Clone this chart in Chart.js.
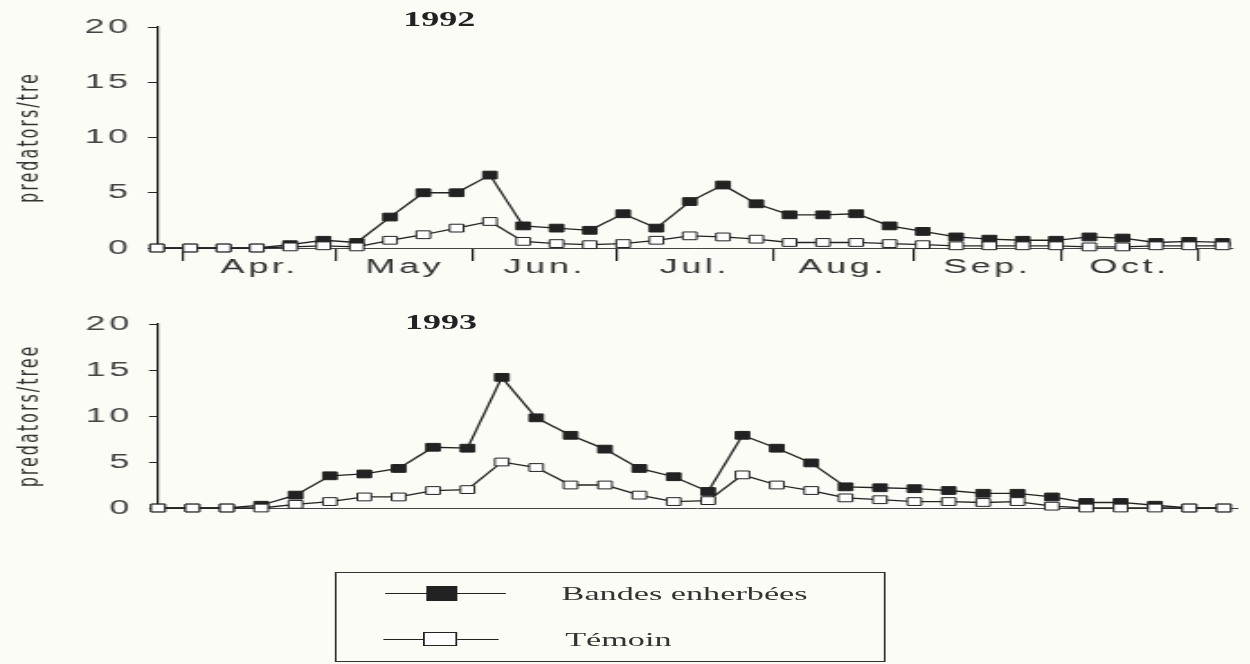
<!DOCTYPE html>
<html>
<head>
<meta charset="utf-8">
<script src="https://cdn.jsdelivr.net/npm/chart.js@4"></script>
<style>
  html, body { margin: 0; padding: 0; background: #fcfcf7; }
  body { width: 1250px; height: 664px; overflow: hidden; position: relative; }
  /* the scanned figure is stretched sideways, so everything is laid out narrow and widened */
  #stretch { position: absolute; left: 0; top: 0; width: 694.44px; height: 664px;
             transform: scaleX(1.8); transform-origin: 0 0; }
  .box { position: absolute; }
  .year { position: absolute; width: 100px; text-align: center; font: bold 20px "Liberation Serif", "Times New Roman", serif;
          line-height: 20px; color: #222; }
  #legend { position: absolute; left: 186px; top: 572px; width: 304px; height: 88px; border: 1.2px solid #333; }
  .row { position: absolute; left: 0; width: 100%; height: 20px; }
  .seg { position: absolute; height: 0; border-top: 1.2px solid #222; top: 9px; }
  .mark { position: absolute; border: 1px solid #222; }
  .lab { position: absolute; font: 19px "Liberation Serif", "Times New Roman", serif; color: #333; line-height: 20px; top: 0; white-space: nowrap; }
</style>
</head>
<body>
<div id="stretch">
  <div class="year" style="left:194px; top:9px">1992</div>
  <div class="box" style="left:0; top:0; width:694px; height:290px"><canvas id="c1992" width="694" height="290"></canvas></div>
  <div class="year" style="left:195px; top:312px">1993</div>
  <div class="box" style="left:0; top:300px; width:694px; height:230px"><canvas id="c1993" width="694" height="230"></canvas></div>
  <div id="legend">
    <div class="row" style="top:11px">
      <div class="seg" style="left:27px; width:67px"></div>
      <div class="mark" style="left:50px; top:2px; width:15px; height:13px; background:#222"></div>
      <div class="lab" style="left:125px">Bandes enherbées</div>
    </div>
    <div class="row" style="top:57px">
      <div class="seg" style="left:26px; width:64px"></div>
      <div class="mark" style="left:48px; top:2px; width:17px; height:12px; background:#fff"></div>
      <div class="lab" style="left:127px">Témoin</div>
    </div>
  </div>
</div>
<script>
// 1992 samples (33 dates, Apr. to Oct.)
const bandes1992 = [0, 0, 0, 0, 0.3, 0.7, 0.5, 2.8, 5.0, 5.0, 6.6, 2.0, 1.8, 1.6, 3.1, 1.8, 4.2, 5.7, 4.0, 3.0, 3.0, 3.1, 2.0, 1.5, 1.0, 0.8, 0.7, 0.7, 1.0, 0.9, 0.5, 0.6, 0.5];
const temoin1992 = [0, 0, 0, 0, 0.1, 0.2, 0.1, 0.7, 1.2, 1.8, 2.4, 0.6, 0.4, 0.3, 0.4, 0.7, 1.1, 1.0, 0.8, 0.5, 0.5, 0.5, 0.4, 0.3, 0.2, 0.2, 0.2, 0.2, 0.1, 0.1, 0.2, 0.2, 0.2];

// 1993 samples (32 dates)
const bandes1993 = [0, 0, 0, 0.3, 1.4, 3.5, 3.7, 4.3, 6.6, 6.5, 14.2, 9.8, 7.9, 6.4, 4.3, 3.4, 1.8, 7.9, 6.5, 4.9, 2.3, 2.2, 2.1, 1.9, 1.6, 1.6, 1.2, 0.6, 0.6, 0.3, 0, 0];
const temoin1993 = [0, 0, 0, 0, 0.4, 0.7, 1.2, 1.2, 1.9, 2.0, 5.0, 4.4, 2.5, 2.5, 1.4, 0.7, 0.8, 3.6, 2.5, 1.9, 1.1, 0.9, 0.7, 0.7, 0.6, 0.7, 0.2, 0, 0, 0, 0, 0];

// month axis of 1992 (positions in sample index)
const months = ['Apr.', 'May', 'Jun.', 'Jul.', 'Aug.', 'Sep.', 'Oct.'];
const monthBounds = [0.78, 5.4, 9.49, 13.81, 18.49, 22.7, 27.17, 31.25];
const monthMids = months.map((m, i) => (monthBounds[i] + monthBounds[i + 1]) / 2);

const yTicks = [0, 5, 10, 15, 20];

const ink = '#222';

// old typewriter-ish look: letters spaced apart
const spacedText = {
  id: 'spacedText',
  beforeDraw: (chart) => { chart.ctx.letterSpacing = '2px'; }
};

function pts(arr) {
  return arr.map((v, i) => ({ x: i, y: v }));
}

function series(label, arr, fill, order) {
  return {
    label: label,
    data: pts(arr),
    borderColor: ink,
    borderWidth: 1.3,
    backgroundColor: fill,
    pointBackgroundColor: fill,
    pointBorderColor: ink,
    pointBorderWidth: 1,
    pointStyle: 'rect',
    pointRadius: 5.5,
    tension: 0,
    clip: false,
    order: order
  };
}

function yAxis(title, width) {
  return {
    min: 0,
    max: 20,
    afterBuildTicks: (s) => { s.ticks = yTicks.map(v => ({ value: v })); },
    afterFit: (s) => { s.width = width; },
    ticks: { color: '#444', padding: 9, font: { family: 'Liberation Sans, Arial', size: 20 } },
    grid: { drawOnChartArea: false, drawTicks: true, tickLength: 5, color: ink },
    border: { display: true, color: ink, width: 1.2 },
    title: { display: true, text: title, color: '#333', padding: { top: 7, bottom: 0 },
             font: { family: "'DejaVu Sans', 'Liberation Sans', sans-serif", size: 16 } }
  };
}

new Chart(document.getElementById('c1992'), {
  type: 'line',
  data: {
    datasets: [
      series('Témoin', temoin1992, '#fff', 0),
      series('Bandes enherbées', bandes1992, ink, 1)
    ]
  },
  plugins: [spacedText],
  options: {
    responsive: false,
    animation: false,
    events: [],
    layout: { padding: { left: 0, top: 27, right: 9.3, bottom: 0 } },
    plugins: { legend: { display: false }, tooltip: { enabled: false } },
    scales: {
      x: {
        type: 'linear',
        min: 0,
        max: 32.3,
        afterBuildTicks: (s) => {
          s.ticks = monthBounds.concat(monthMids).sort((a, b) => a - b).map(v => ({ value: v }));
        },
        afterFit: (s) => { s.height = 42; },
        ticks: {
          autoSkip: false,
          maxRotation: 0,
          padding: -6,
          color: '#333',
          font: { family: 'Liberation Sans, Arial', size: 20 },
          callback: (v) => {
            const i = monthMids.indexOf(v);
            return i >= 0 ? months[i] : '';
          }
        },
        grid: {
          drawOnChartArea: false,
          drawTicks: true,
          tickLength: 13,
          lineWidth: 1.2,
          color: (c) => (c.tick && monthBounds.includes(c.tick.value)) ? ink : 'rgba(0,0,0,0)'
        },
        border: { display: true, color: '#444', width: 1 }
      },
      y: yAxis('predators/tre', 87.2)
    }
  }
});

new Chart(document.getElementById('c1993'), {
  type: 'line',
  data: {
    datasets: [
      series('Témoin', temoin1993, '#fff', 0),
      series('Bandes enherbées', bandes1993, ink, 1)
    ]
  },
  plugins: [spacedText],
  options: {
    responsive: false,
    animation: false,
    events: [],
    layout: { padding: { left: 0, top: 24, right: 4.6, bottom: 0 } },
    plugins: { legend: { display: false }, tooltip: { enabled: false } },
    scales: {
      x: {
        type: 'linear',
        min: 0,
        max: 31.4,
        afterFit: (s) => { s.height = 22; },
        ticks: { display: false },
        grid: { display: false },
        border: { display: true, color: '#444', width: 1 }
      },
      y: yAxis('predators/tree', 87.8)
    }
  }
});
</script>
</body>
</html>
